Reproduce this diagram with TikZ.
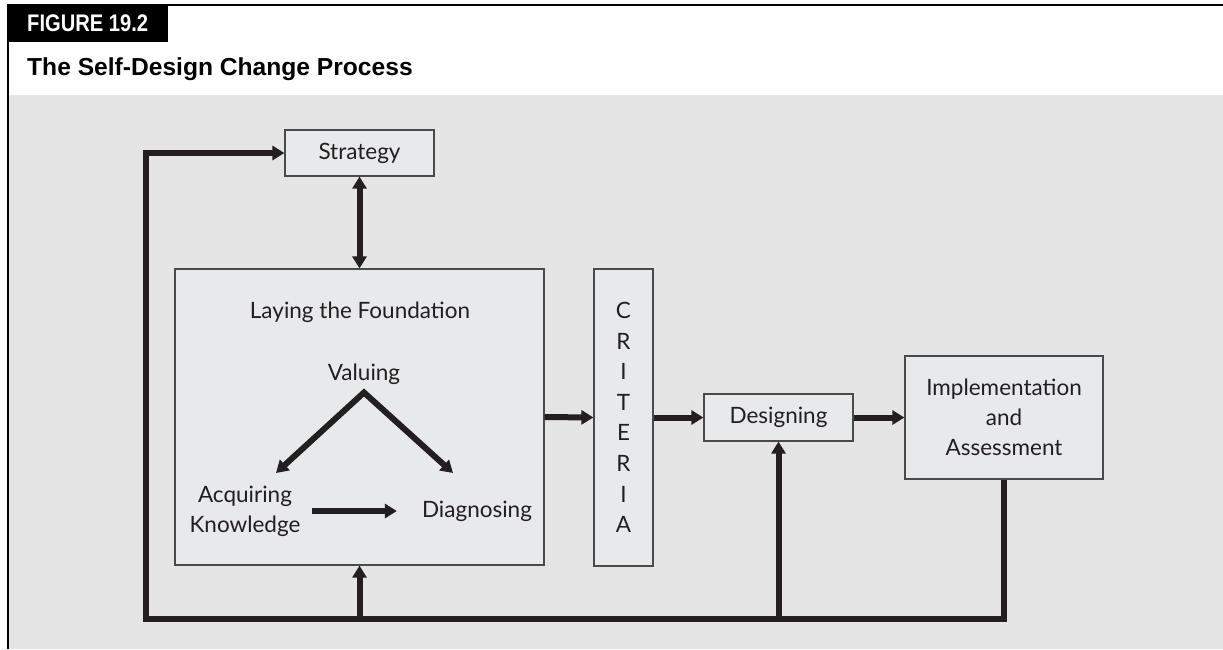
\documentclass[tikz,border=0pt]{standalone}
\usepackage{fontspec}
\setmainfont{Lato}
\newfontfamily\headfont{Liberation Sans}
\newfontfamily\tabfont[FakeStretch=0.84]{Liberation Sans}
\usetikzlibrary{arrows.meta}

\definecolor{panel}{HTML}{E5E5E5}
\definecolor{boxfill}{HTML}{E8E9EA}
\definecolor{boxline}{HTML}{4A4A4A}
\definecolor{ink}{HTML}{231F20}

\begin{document}
\begin{tikzpicture}[x=1pt,y=-1pt,
  box/.style={draw=boxline, fill=boxfill, line width=1.2pt, inner sep=0pt,
    font=\fontsize{22.5}{30}\selectfont, text=ink, align=center},
  lbl/.style={font=\fontsize{22.5}{30}\selectfont, text=ink, align=center, inner sep=0pt},
  tip/.tip={Triangle[width=14pt,length=12pt]},
  flow/.style={draw=ink, line width=6pt, line join=miter, -tip},
  biflow/.style={draw=ink, line width=6pt, line join=miter, tip-tip},
]
\useasboundingbox (0,0) rectangle (1223,649);

% page, frame and heading
\fill[white] (0,0) rectangle (1223,649);
\fill[panel] (8,95) rectangle (1223,649);
\draw[line width=2pt] (7,5) -- (1223,5);
\draw[line width=2pt] (8,4) -- (8,649);
\fill[black] (7,4) rectangle (168,42);
\node[anchor=base west, inner sep=0pt, text=white,
  font=\tabfont\bfseries\fontsize{24}{26}\selectfont] (tab) at (27,31.5) {FIGURE 19.2};
\node[anchor=base west, inner sep=0pt,
  font=\headfont\bfseries\fontsize{24.6}{28}\selectfont]
  (title) at (27,75) {The Self-Design Change Process};

% boxes
\node[box, minimum width=149pt, minimum height=46pt] (strategy) at (359.5,153) {Strategy};
\node[box, minimum width=369pt, minimum height=296pt] (found) at (359.5,417) {};
\node[box, minimum width=59pt, minimum height=297pt,
  font=\fontsize{22.5}{30.57}\selectfont] (criteria) at (623.5,417.5)
  {C\\R\\I\\T\\E\\R\\I\\A};
\node[box, minimum width=149pt, minimum height=47pt] (design) at (778.5,417.5) {Designing};
\node[box, minimum width=198pt, minimum height=123pt] (impl) at (1004,417.5)
  {Implementation\\and\\Assessment};

% contents of the foundation box
\node[lbl, anchor=base] (foundtitle) at (360,318) {Laying the Foundation};
\node[lbl, anchor=base] (valuing) at (364,380) {Valuing};
\node[lbl, anchor=base] (diag) at (477,517) {Diagnosing};
\node[lbl] (acq) at (245,511) {Acquiring\\Knowledge};

\coordinate (apex) at (364,392.5);
\coordinate (akhead) at (276,473);
\coordinate (dghead) at (453,473);
\draw[biflow] (akhead) -- (apex) -- (dghead);
\draw[flow, shorten <=11pt, shorten >=25pt] (acq.east) -- (acq.east -| diag.west);

% main flow
\draw[biflow] (strategy.south) -- (found.north);
\draw[flow] (found.east) -- (criteria.west);
\draw[flow] (criteria.east) -- (design.west);
\draw[flow] (design.east) -- (impl.west);

% feedback loop
\coordinate (loopcorner) at (146,619);
\draw[flow] (impl.south) |- (loopcorner) |- (strategy.west);
\draw[flow] (found.south |- loopcorner) -- (found.south);
\draw[flow] (design.south |- loopcorner) -- (design.south);
\end{tikzpicture}
\end{document}
